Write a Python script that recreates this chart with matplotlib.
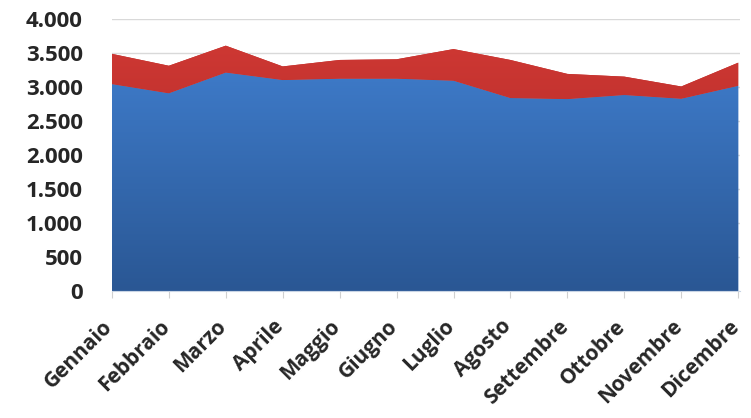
import matplotlib
matplotlib.use('Agg')
import matplotlib.pyplot as plt
import numpy as np
from matplotlib.colors import LinearSegmentedColormap
from matplotlib.ticker import FuncFormatter
from matplotlib.transforms import offset_copy

mesi = ['Gennaio', 'Febbraio', 'Marzo', 'Aprile', 'Maggio', 'Giugno',
        'Luglio', 'Agosto', 'Settembre', 'Ottobre', 'Novembre', 'Dicembre']
serie_blu = [3040, 2905, 3210, 3100, 3120, 3120, 3090, 2835, 2820, 2880, 2825, 3015]
serie_rossa = [445, 405, 395, 200, 275, 285, 465, 560, 370, 270, 180, 340]

fig = plt.figure(figsize=(7.51, 4.18), dpi=100)
ax = fig.add_axes([0.149, 0.304, 0.837, 0.651])

x = np.arange(len(mesi))
aree = ax.stackplot(x, serie_blu, serie_rossa, colors=['#3b78c6', '#c0302d'], zorder=2)

# sfumatura verticale dentro ogni area
sfumature = [('#4282d4', '#2a5794'), ('#d23a35', '#a52322')]
for area, (c_alto, c_basso) in zip(aree, sfumature):
    cmap = LinearSegmentedColormap.from_list('g', [c_basso, c_alto])
    grad = np.linspace(0, 1, 256).reshape(-1, 1)
    img = ax.imshow(grad, cmap=cmap, aspect='auto', origin='lower',
                    extent=[x[0], x[-1], 0, 4000], zorder=2.5)
    img.set_clip_path(area.get_paths()[0], transform=ax.transData)
    area.set_edgecolor('none')

ax.set_xlim(x[0], x[-1] + 0.04)
ax.set_ylim(0, 4000)
ax.set_yticks(range(0, 4001, 500))
ax.yaxis.set_major_formatter(FuncFormatter(lambda v, p: f'{int(v):,}'.replace(',', '.')))
ax.set_xticks(x)
ax.set_xticklabels([])

for lab in ax.get_yticklabels():
    lab.set_fontfamily('Open Sans')
    lab.set_fontweight('bold')
    lab.set_fontsize(16)
    lab.set_color('#262626')

# etichette dei mesi ruotate, spostate un po' a sinistra come in Excel
tr = offset_copy(ax.get_xaxis_transform(), fig=fig, x=-7, y=-18, units='points')
for i, m in enumerate(mesi):
    ax.text(x[i], 0, m, transform=tr, rotation=45, ha='right', va='top',
            rotation_mode='anchor', fontfamily='Open Sans', fontweight='bold',
            fontsize=15, color='#262626', clip_on=False)

ax.grid(axis='y', color='#d9d9d9', linewidth=1, zorder=0)
ax.set_axisbelow(True)
for s in ['top', 'right', 'left']:
    ax.spines[s].set_visible(False)
ax.spines['bottom'].set_color('#c8d4e4')
ax.tick_params(axis='y', length=0, pad=21)
ax.tick_params(axis='x', length=5, color='#d0d0d0')

fig.savefig('out.png', dpi=100)
